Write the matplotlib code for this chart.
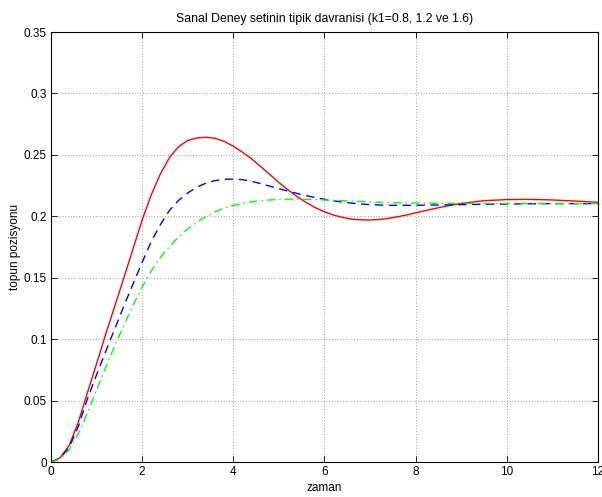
import numpy as np
from matplotlib import pyplot as plt

# zaman ekseni (okunan noktalar)
t = [0, 0.2, 0.4, 0.6, 0.8, 1.0, 1.2, 1.4, 1.6, 1.8,
     2.0, 2.2, 2.4, 2.6, 2.8, 3.0, 3.2, 3.4, 3.6, 3.8,
     4.0, 4.2, 4.4, 4.6, 4.8, 5.0, 5.2, 5.4, 5.6, 5.8,
     6.0, 6.2, 6.4, 6.6, 6.8, 7.0, 7.2, 7.4, 7.6, 7.8,
     8.0, 8.5, 9.0, 9.5, 10.0, 10.5, 11.0, 11.5, 12.0]

# k1 = 1.6 (kirmizi)
y_red = [0, 0.0035, 0.0135, 0.0325, 0.0565, 0.080, 0.104, 0.127, 0.150, 0.1735,
         0.1970, 0.2175, 0.2345, 0.2478, 0.2567, 0.2617, 0.2638, 0.2643, 0.2635, 0.2610,
         0.2570, 0.2522, 0.2468, 0.2405, 0.2340, 0.2275, 0.2215, 0.2160, 0.2112, 0.2070,
         0.2037, 0.2010, 0.1990, 0.1977, 0.1971, 0.1970, 0.1974, 0.1983, 0.1996, 0.2011,
         0.2028, 0.2070, 0.2105, 0.2127, 0.2136, 0.2138, 0.2133, 0.2124, 0.2114]
# k1 = 1.2 (mavi)
y_blue = [0, 0.003, 0.012, 0.029, 0.0515, 0.071, 0.090, 0.1085, 0.127, 0.145,
          0.1625, 0.1795, 0.1932, 0.2048, 0.2130, 0.2190, 0.2237, 0.2270, 0.2291, 0.2301,
          0.2303, 0.2298, 0.2285, 0.2266, 0.2245, 0.2225, 0.2205, 0.2186, 0.2168, 0.2152,
          0.2138, 0.2126, 0.2115, 0.2107, 0.2100, 0.2095, 0.2092, 0.2090, 0.2089, 0.2089,
          0.2090, 0.2092, 0.2095, 0.2098, 0.2100, 0.2102, 0.2103, 0.2103, 0.2103]
# k1 = 0.8 (yesil)
y_green = [0, 0.0025, 0.010, 0.023, 0.040, 0.0585, 0.077, 0.0945, 0.1115, 0.1275,
           0.1425, 0.1555, 0.1665, 0.1755, 0.1832, 0.1897, 0.1952, 0.1998, 0.2036, 0.2066,
           0.2089, 0.2106, 0.2118, 0.2127, 0.2133, 0.2137, 0.2139, 0.2139, 0.2138, 0.2136,
           0.2133, 0.2130, 0.2127, 0.2124, 0.2120, 0.2117, 0.2114, 0.2112, 0.2110, 0.2109,
           0.2108, 0.2106, 0.2105, 0.2104, 0.2104, 0.2104, 0.2104, 0.2104, 0.2104]

plt.rcParams['font.family'] = ['Liberation Sans', 'DejaVu Sans']
plt.rcParams['font.size'] = 8.5

fig = plt.figure(figsize=(6.02, 4.97), dpi=100)
ax = fig.add_axes([0.0847, 0.0704, 0.9086, 0.8652])

ax.plot(t, y_red, color=(1, 0, 0), lw=1.0)
ax.plot(t, y_blue, color=(0, 0, 1), lw=1.0, dashes=(6, 4))
ax.plot(t, y_green, color=(0, 1, 0), lw=1.0, dashes=(6, 3, 1, 3))

ax.set_xlim(0, 12)
ax.set_ylim(0, 0.35)
ax.set_xticks([0, 2, 4, 6, 8, 10, 12])
ax.set_yticks([0, 0.05, 0.1, 0.15, 0.2, 0.25, 0.3, 0.35])
ax.set_yticklabels(['0', '0.05', '0.1', '0.15', '0.2', '0.25', '0.3', '0.35'])
ax.tick_params(direction='in', top=True, right=True, length=4, width=0.6, pad=3)
ax.grid(True, color='k', linestyle=(0, (1, 3)), linewidth=0.5, alpha=0.7)
for s in ax.spines.values():
    s.set_linewidth(0.8)

ax.set_title('Sanal Deney setinin tipik davranisi (k1=0.8, 1.2 ve 1.6)', fontsize=8.8, pad=7)
ax.set_xlabel('zaman', labelpad=2.5)
ax.set_ylabel('topun pozisyonu', labelpad=2)

plt.savefig('out.png', dpi=100)
